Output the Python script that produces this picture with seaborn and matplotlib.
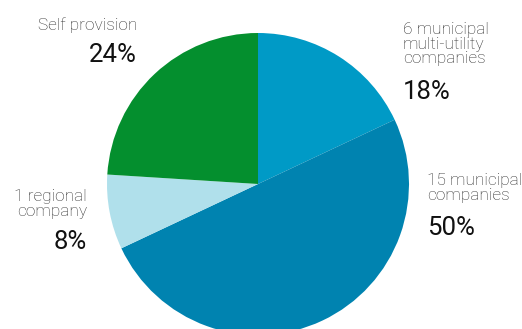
import matplotlib
matplotlib.use("Agg")
import matplotlib.pyplot as plt
import seaborn as sns

# Data
categories = ["6 municipal\nmulti-utility\ncompanies", "15 municipal\ncompanies",
              "1 regional\ncompany", "Self provision"]
shares = [18, 50, 8, 24]
pct_labels = ["18%", "50%", "8%", "24%"]
colors = ["#009ac6", "#0083b0", "#b0e0eb", "#048f2e"]

sns.set_theme(style="white")
plt.rcParams["font.family"] = ["Roboto", "DejaVu Sans"]

W, H = 522, 329
fig = plt.figure(figsize=(W / 100, H / 100), dpi=100)
ax = fig.add_axes([0, 0, 1, 1])

cx, cy, r = 258, H - 184, 151
ax.pie(shares, colors=colors, startangle=90, counterclock=False,
       center=(cx, cy), radius=r, frame=True,
       wedgeprops=dict(linewidth=0))
ax.set_xlim(0, W)
ax.set_ylim(0, H)
ax.set_aspect("equal")
ax.axis("off")

# label positions (x, y center of label block, alignment, pct y)
layout = [
    (403, 44, "left", 92),
    (427, 188, "left", 228),
    (87, 204, "right", 242),
    (137, 25, "right", 55),
]
for cat, pct, (x, yc, ha, ypct) in zip(categories, pct_labels, layout):
    ax.text(x, H - yc, cat, ha=ha, va="center", fontsize=12.4,
            fontweight="light", color="#2e2e2e", linespacing=0.95)
    ax.text(x, H - ypct, pct, ha=ha, va="center", fontsize=18.5,
            color="#111111")

fig.savefig("out.png", dpi=100)
